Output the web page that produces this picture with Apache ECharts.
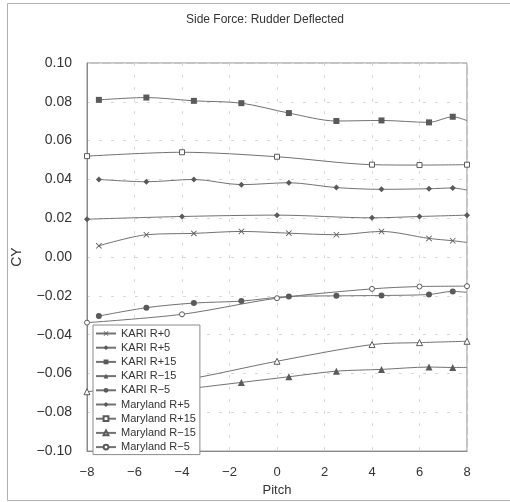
<!DOCTYPE html>
<html>
<head>
<meta charset="utf-8">
<script src="https://cdn.jsdelivr.net/npm/echarts@6/dist/echarts.min.js"></script>
<style>html,body{margin:0;padding:0;background:#fff}#c{width:510px;height:502px}</style>
</head>
<body>
<div id="c"></div>
<script>
const kariPitch = [-7.5, -5.5, -3.5, -1.5, 0.5, 2.5, 4.4, 6.4, 7.4, 8];
const kariR0   = [0.0058, 0.0115, 0.0122, 0.0132, 0.0123, 0.0115, 0.0132, 0.0096, 0.0084, 0.0075];
const kariR5   = [0.040, 0.0388, 0.040, 0.0373, 0.0383, 0.0358, 0.0349, 0.0352, 0.0356, 0.0345];
const kariR15  = [0.081, 0.0822, 0.0805, 0.0793, 0.0742, 0.0701, 0.0704, 0.0694, 0.0723, 0.0703];
const kariRm15 = [-0.072, -0.070, -0.0675, -0.0646, -0.0617, -0.0588, -0.0579, -0.0567, -0.0569, -0.0569];
const kariRm5  = [-0.0304, -0.0261, -0.0237, -0.0227, -0.0203, -0.0200, -0.0198, -0.0193, -0.0177, -0.0182];

const mdPitch  = [-8, -4, 0, 4, 6, 8];
const mdR5     = [0.0195, 0.0209, 0.0216, 0.0202, 0.0209, 0.0216];
const mdR15    = [0.052, 0.054, 0.0517, 0.0476, 0.0474, 0.0476];
const mdRm15   = [-0.0694, -0.0635, -0.0537, -0.0451, -0.0441, -0.0434];
const mdRm5    = [-0.0338, -0.0295, -0.0212, -0.0164, -0.0152, -0.0150];

const xTicks = [-8, -6, -4, -2, 0, 2, 4, 6, 8];
const yTicks = [-0.10, -0.08, -0.06, -0.04, -0.02, 0.00, 0.02, 0.04, 0.06, 0.08, 0.10];

const LINE = '#727272', MARK = '#5a5a5a';
const XSYM = 'path://M0,1L1,0L5,4L9,0L10,1L6,5L10,9L9,10L5,6L1,10L0,9L4,5Z';

function pairs(xs, ys, hideLast) {
  return xs.map((x, i) => {
    const d = { value: [x, ys[i]] };
    if (hideLast && i === xs.length - 1) d.symbol = 'none';
    return d;
  });
}
function mk(name, xs, ys, symbol, size, hollow, hideLast) {
  return {
    name, type: 'line', data: pairs(xs, ys, hideLast), smooth: 0.3,
    symbol, symbolSize: size, showSymbol: true,
    lineStyle: { color: LINE, width: 1 },
    itemStyle: hollow ? { color: '#fff', borderColor: MARK, borderWidth: 1 } : { color: MARK, borderColor: MARK, borderWidth: 0 },
    emphasis: { disabled: true }
  };
}
const minus = s => s.replace('-', '\u2212');

const chart = echarts.init(document.getElementById('c'));
chart.setOption({
  animation: false,
  backgroundColor: '#fff',
  textStyle: { fontFamily: 'Liberation Sans, Arial, sans-serif' },
  graphic: [{ type: 'rect', shape: { x: 7.5, y: 3.5, width: 520, height: 497 }, style: { fill: 'none', stroke: '#b0b0b0', lineWidth: 1 }, silent: true }],
  title: { text: 'Side Force: Rudder Deflected', left: 260, top: 9, textAlign: 'center',
    textStyle: { fontSize: 12, fontWeight: 'normal', color: '#333', fontFamily: 'Liberation Sans, Arial, sans-serif' } },
  grid: { left: 87, right: 43, top: 63, bottom: 49, show: true, borderColor: '#8a8a8a', borderWidth: 1, backgroundColor: 'transparent' },
  legend: {
    orient: 'vertical', left: 93, top: 325, itemWidth: 20, itemHeight: 6, itemGap: 3.2,
    padding: [3, 4, 2, 2], backgroundColor: '#fff', borderColor: '#8a8a8a', borderWidth: 1, borderRadius: 0,
    textStyle: { fontSize: 11, color: '#333', padding: [0, 0, 0, 0] }, itemTextGap: 5,
    selectedMode: false
  },
  xAxis: {
    type: 'value', min: -8, max: 8, interval: 2,
    name: 'Pitch', nameLocation: 'middle', nameGap: 29,
    nameTextStyle: { fontSize: 13, color: '#333' },
    axisLine: { show: true, onZero: false, lineStyle: { color: '#8a8a8a' } },
    axisTick: { show: false },
    axisLabel: { fontSize: 13, color: '#333', margin: 15, formatter: v => minus(String(xTicks.find(t => Math.abs(t - v) < 1e-9) ?? v)) },
    splitLine: { show: true, lineStyle: { color: '#d8d8d8', type: [3, 9] } }
  },
  yAxis: {
    type: 'value', min: -0.1, max: 0.1, interval: 0.02,
    name: 'CY', nameLocation: 'middle', nameGap: 63, nameRotate: 90,
    nameTextStyle: { fontSize: 14, color: '#333' },
    axisLine: { show: true, onZero: false, lineStyle: { color: '#8a8a8a' } },
    axisTick: { show: false },
    axisLabel: { fontSize: 14, color: '#333', margin: 15, formatter: v => {
      const t = yTicks.find(t => Math.abs(t - v) < 1e-9); return minus((t ?? v).toFixed(2)); } },
    splitLine: { show: true, lineStyle: { color: '#d8d8d8', type: [3, 9] } }
  },
  series: [
    mk('KARI R+0', kariPitch, kariR0, XSYM, 6, false, true),
    mk('KARI R+5', kariPitch, kariR5, 'diamond', 6, false, true),
    mk('KARI R+15', kariPitch, kariR15, 'rect', 6, false, true),
    mk('KARI R\u221215', kariPitch, kariRm15, 'triangle', 7, false, true),
    mk('KARI R\u22125', kariPitch, kariRm5, 'circle', 6, false, true),
    mk('Maryland R+5', mdPitch, mdR5, 'diamond', 6, false, false),
    mk('Maryland R+15', mdPitch, mdR15, 'rect', 5, true, false),
    mk('Maryland R\u221215', mdPitch, mdRm15, 'triangle', 6, true, false),
    mk('Maryland R\u22125', mdPitch, mdRm5, 'circle', 5, true, false)
  ]
});
</script>
</body>
</html>
